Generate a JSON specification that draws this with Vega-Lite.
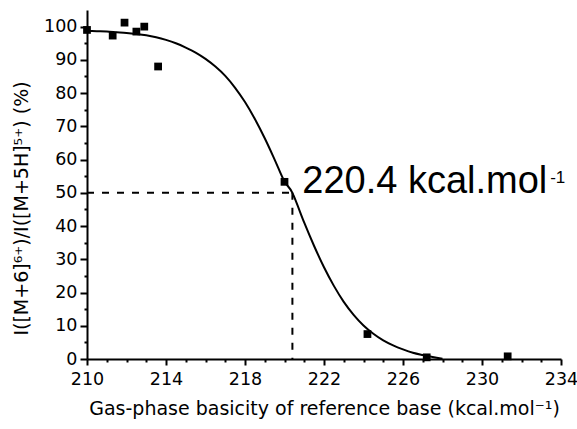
{
  "$schema": "https://vega.github.io/schema/vega-lite/v6.json",
  "autosize": "none",
  "width": 474,
  "height": 349,
  "padding": {"left": 87, "top": 10, "right": 16, "bottom": 70},
  "background": "white",
  "config": {
    "view": {"stroke": null},
    "axis": {
      "domainColor": "black",
      "domainWidth": 2,
      "tickColor": "black",
      "tickWidth": 2,
      "grid": false,
      "labelColor": "black",
      "labelFont": "DejaVu Sans",
      "labelFontSize": 17.5,
      "labelOverlap": false,
      "labelFlush": false,
      "titleFont": "DejaVu Sans",
      "titleFontSize": 19,
      "titleFontWeight": "normal",
      "titleColor": "black"
    }
  },
  "datasets": {
    "points": [
      {"x": 210.0, "y": 99.0},
      {"x": 211.3, "y": 97.3},
      {"x": 211.9, "y": 101.2},
      {"x": 212.5, "y": 98.5},
      {"x": 212.9, "y": 100.0},
      {"x": 213.6, "y": 88.0},
      {"x": 220.0, "y": 53.3},
      {"x": 224.2, "y": 7.5},
      {"x": 227.2, "y": 0.5},
      {"x": 231.3, "y": 0.8}
    ],
    "curve": [
      {"x": 210.0, "y": 98.7},
      {"x": 210.5, "y": 98.6},
      {"x": 211.0, "y": 98.5},
      {"x": 211.5, "y": 98.3},
      {"x": 212.0, "y": 98.1},
      {"x": 212.5, "y": 97.8},
      {"x": 213.0, "y": 97.4},
      {"x": 213.5, "y": 96.8},
      {"x": 214.0, "y": 96.0},
      {"x": 214.5, "y": 95.0},
      {"x": 215.0, "y": 93.7},
      {"x": 215.5, "y": 92.2},
      {"x": 216.0, "y": 90.3},
      {"x": 216.5, "y": 88.0},
      {"x": 217.0, "y": 85.2},
      {"x": 217.5, "y": 81.6},
      {"x": 218.0, "y": 77.3},
      {"x": 218.5, "y": 72.2},
      {"x": 219.0, "y": 66.4},
      {"x": 219.5, "y": 60.0},
      {"x": 220.0, "y": 53.4},
      {"x": 220.4, "y": 50.0},
      {"x": 220.5, "y": 48.6},
      {"x": 221.0, "y": 41.0},
      {"x": 221.5, "y": 34.0},
      {"x": 222.0, "y": 27.6},
      {"x": 222.5, "y": 22.0},
      {"x": 223.0, "y": 17.2},
      {"x": 223.5, "y": 13.3},
      {"x": 224.0, "y": 10.1},
      {"x": 224.5, "y": 7.6},
      {"x": 225.0, "y": 5.6},
      {"x": 225.5, "y": 4.1},
      {"x": 226.0, "y": 2.9},
      {"x": 226.5, "y": 1.9},
      {"x": 227.0, "y": 1.2},
      {"x": 227.5, "y": 0.6},
      {"x": 228.0, "y": 0.1}
    ],
    "dashes": [
      {"x": 210.0, "y": 50, "x2": 220.4, "y2": 50},
      {"x": 220.4, "y": 50, "x2": 220.4, "y2": 0}
    ],
    "labels": [
      {"x": 220.9, "y": 50.0, "text": "220.4 kcal.mol"}
    ],
    "sups": [
      {"x": 233.45, "y": 53.0, "text": "-1"}
    ]
  },
  "layer": [
    {
      "data": {"name": "dashes"},
      "mark": {"type": "rule", "color": "black", "strokeWidth": 2, "strokeDash": [7, 8]},
      "encoding": {
        "x": {"field": "x", "type": "quantitative", "scale": {"domain": [210, 234], "nice": false, "zero": false},
              "axis": {"orient": "bottom", "values": [210, 214, 218, 222, 226, 230, 234], "format": "d", "tickSize": 6, "labelPadding": 5, "titlePadding": 12, "title": "Gas-phase basicity of reference base (kcal.mol⁻¹)"}},
        "x2": {"field": "x2"},
        "y": {"field": "y", "type": "quantitative", "scale": {"domain": [0, 105], "nice": false, "zero": false},
              "axis": {"orient": "left", "values": [0, 10, 20, 30, 40, 50, 60, 70, 80, 90, 100], "format": "d", "tickSize": 7, "labelPadding": 3, "title": "I([M+6]⁶⁺)/I([M+5H]⁵⁺) (%)", "titleAngle": 270, "titleAlign": "center", "titleBaseline": "middle", "titleX": -66, "titleY": 198}},
        "y2": {"field": "y2"}
      }
    },
    {
      "data": {"name": "curve"},
      "mark": {"type": "line", "color": "black", "strokeWidth": 2, "interpolate": "monotone"},
      "encoding": {
        "x": {"field": "x", "type": "quantitative", "axis": null},
        "y": {"field": "y", "type": "quantitative", "axis": null}
      }
    },
    {
      "data": {"name": "labels"},
      "mark": {"type": "text", "font": "Liberation Sans", "fontSize": 38, "align": "left", "baseline": "alphabetic", "color": "black"},
      "encoding": {
        "x": {"field": "x", "type": "quantitative", "axis": null},
        "y": {"field": "y", "type": "quantitative", "axis": null},
        "text": {"field": "text"}
      }
    },
    {
      "data": {"name": "sups"},
      "mark": {"type": "text", "font": "Liberation Sans", "fontSize": 17, "align": "left", "baseline": "alphabetic", "color": "black"},
      "encoding": {
        "x": {"field": "x", "type": "quantitative", "axis": null},
        "y": {"field": "y", "type": "quantitative", "axis": null},
        "text": {"field": "text"}
      }
    },
    {
      "data": {"name": "points"},
      "mark": {"type": "point", "shape": "square", "filled": true, "size": 60, "color": "black", "opacity": 1},
      "encoding": {
        "x": {"field": "x", "type": "quantitative",
              "axis": {"orient": "bottom", "values": [211, 212, 213, 215, 216, 217, 219, 220, 221, 223, 224, 225, 227, 228, 229, 231, 232, 233], "labels": false, "domain": false, "tickSize": 3, "title": null}},
        "y": {"field": "y", "type": "quantitative",
              "axis": {"orient": "left", "values": [5, 15, 25, 35, 45, 55, 65, 75, 85, 95], "labels": false, "domain": false, "tickSize": 3, "title": null}}
      }
    }
  ],
  "resolve": {"axis": {"x": "independent", "y": "independent"}}
}
